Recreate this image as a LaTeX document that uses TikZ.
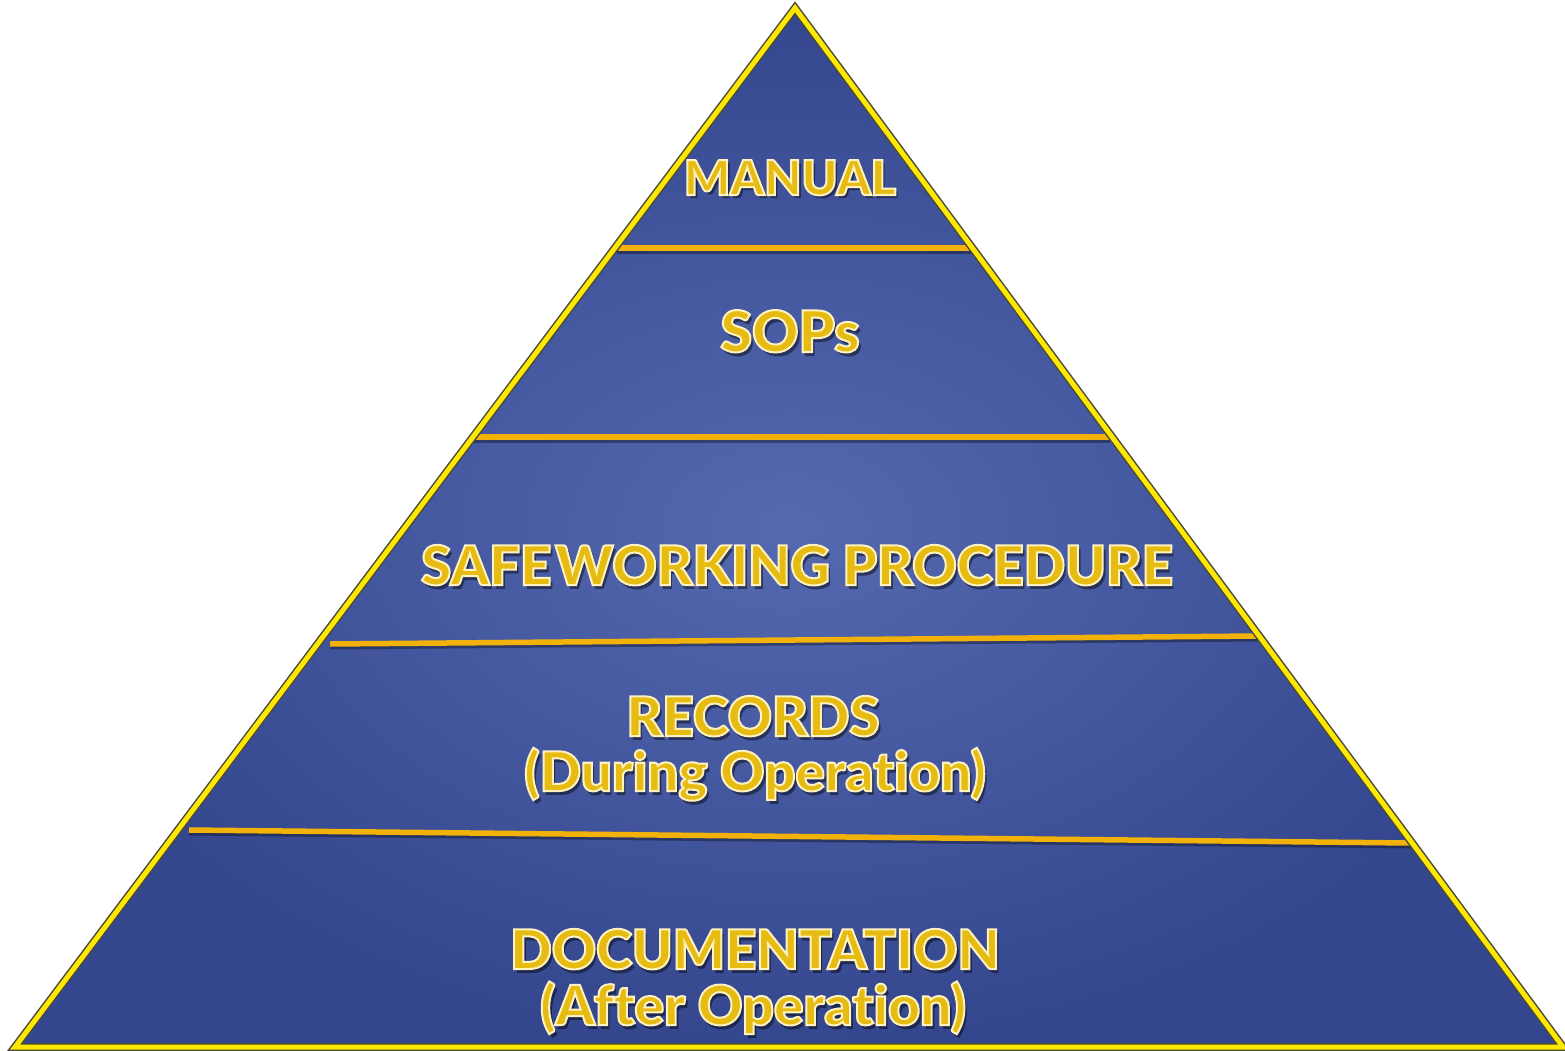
\documentclass[tikz,border=0pt]{standalone}
\usepackage{fontspec}
\setmainfont{Lato}[Ligatures=NoCommon,BoldFont={Lato Black}]
\definecolor{edgeY}{HTML}{FFE800}
\definecolor{edgeD}{HTML}{4A4A3A}
\definecolor{divY}{HTML}{F2B20A}
\definecolor{blueIn}{HTML}{5569B0}
\definecolor{blueOut}{HTML}{34478E}
\definecolor{goldT}{HTML}{E6BC12}
\newcommand\lblfont[1]{\fontsize{#1pt}{#1pt}\selectfont\bfseries}
\newcommand\outl[1]{\special{pdf:code 2 Tr 2 w 1 0.95 0.76 RG}#1\special{pdf:code 0 Tr}}
\begin{document}
\begin{tikzpicture}[x=1pt,y=-1pt,
  lbl/.style={anchor=base,inner sep=0pt,outer sep=0pt,text=goldT},
  shd/.style={anchor=base,inner sep=0pt,outer sep=0pt,text=black,opacity=.45},
  divider/.style={line width=5.5pt,divY},
  dshadow/.style={line width=4pt,black,opacity=.35}]
\useasboundingbox (0,0) rectangle (1565,1051);
\fill[white] (0,0) rectangle (1565,1051);
% pyramid corners
\coordinate (apex) at (795,8);
\coordinate (bl) at (15,1047);
\coordinate (br) at (1563,1047);
% body
\shade[inner color=blueIn,outer color=blueOut] (apex) -- (bl) -- (br) -- cycle;
% dividers (end points on the sides)
\coordinate (l1) at (617,248);  \coordinate (r1) at (974,248);
\coordinate (l2) at (474,437);  \coordinate (r2) at (1110,437);
\coordinate (l3) at (330,644);  \coordinate (r3) at (1258,636);
\coordinate (l4) at (189,830);  \coordinate (r4) at (1410,843);
\foreach \i in {1,2,3,4}{
  \draw[dshadow] ([yshift=-3.5pt]l\i) -- ([yshift=-3.5pt]r\i);
  \draw[divider] (l\i) -- (r\i);
}
% outline
\draw[line width=8pt,edgeD,line join=miter,miter limit=10] (apex) -- (bl) -- (br) -- cycle;
\draw[line width=5pt,edgeY,line join=miter,miter limit=10] (apex) -- (bl) -- (br) -- cycle;
% labels: shadow + text
\foreach \nm/\x/\y/\s/\t in {manual/790/195/48/MANUAL,
                             sops/790/352/57/SOPs,
                             swp/797/585/54.5/{SAFE\hspace{4pt}WORKING PROCEDURE},
                             rec/753/736/54.5/RECORDS,
                             during/755/791/54.5/{(During Operation)},
                             doc/755/969/54.5/DOCUMENTATION,
                             after/753/1025/55/{(After Operation)}}{
  \node[shd,font=\lblfont{\s}] (\nm-s) at (\x+3,\y+4) {\t};
  \node[lbl,font=\lblfont{\s}] (\nm) at (\x,\y) {\outl{\t}};
}
\end{tikzpicture}
\end{document}
